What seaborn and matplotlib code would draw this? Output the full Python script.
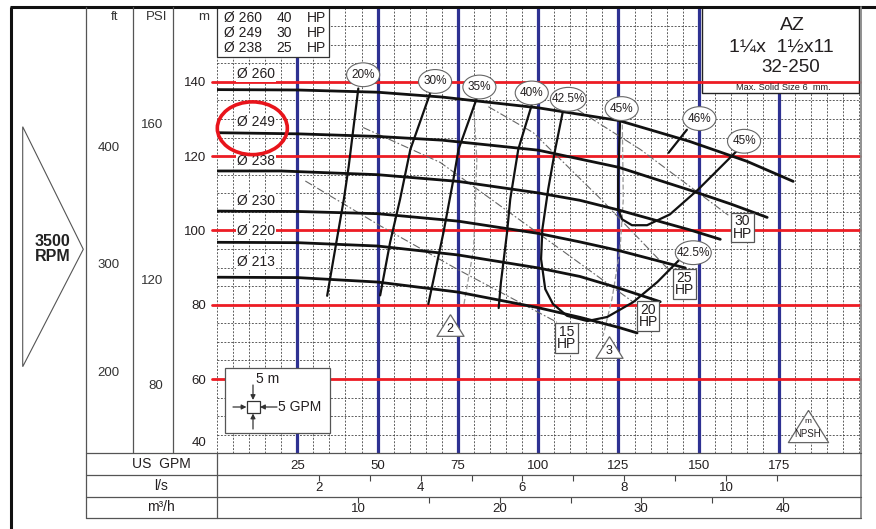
import numpy as np
import pandas as pd
import matplotlib
matplotlib.use("Agg")
import matplotlib.pyplot as plt
import seaborn as sns
from matplotlib.patches import Ellipse, Rectangle, Polygon

# ---------------- data ----------------
gpm_ticks = [25, 50, 75, 100, 125, 150, 175]
head_ticks = [60, 80, 100, 120, 140]
ls_major = [2, 4, 6, 8, 10]
ls_minor = [3, 5, 7, 9, 11]
m3h_major = [10, 20, 30, 40]
m3h_minor = [15, 25, 35]

ft_major_pos = [122.6, 91.0, 62.1]
ft_major_lab = ["400", "300", "200"]
ft_minor_pos = [140.1, 105.2, 76.6]
psi_major_pos = [128.8, 86.9, 58.5]
psi_major_lab = ["160", "120", "80"]
psi_minor_pos = [115.3, 100.5, 72.1]

dia_names = ["Ø 260", "Ø 249", "Ø 238", "Ø 230", "Ø 220", "Ø 213"]
dia_lab_h = [142.1, 129.2, 118.6, 107.8, 99.8, 91.6]
q_260 = [0, 25, 50, 70, 100, 125, 147, 165, 179.4]
h_260 = [137.9, 137.8, 137.2, 135.9, 133.0, 129.6, 124.0, 118.6, 113.2]
q_249 = [0, 25, 50, 70, 100, 125, 147, 160, 171.3]
h_249 = [126.3, 126.0, 125.3, 124.3, 121.6, 117.0, 110.9, 107.1, 103.5]
q_238 = [0, 20, 50, 75, 100, 113, 125, 147, 156.7]
h_238 = [116.0, 116.0, 115.0, 113.2, 110.1, 108.1, 105.5, 100.2, 97.6]
q_230 = [0, 25, 50, 75, 100, 113, 125, 145.8]
h_230 = [105.2, 105.1, 104.5, 102.5, 99.2, 96.9, 94.6, 89.9]
q_220 = [0, 25, 50, 75, 100, 113, 125, 138]
h_220 = [96.8, 96.7, 95.8, 93.4, 89.9, 87.6, 84.5, 80.8]
q_213 = [0, 25, 50, 75, 100, 113, 125, 130.8]
h_213 = [87.4, 87.3, 86.1, 83.4, 79.2, 76.6, 73.9, 72.4]

q_e20 = [44.0, 41.0, 39.5, 36.4, 34.3]
h_e20 = [138.2, 117.2, 108.4, 93.0, 82.4]
q_e30 = [66.4, 60.2, 57.0, 53.9, 50.8]
h_e30 = [137.0, 121.8, 108.4, 96.8, 82.5]
q_e35 = [80.9, 75.2, 73.6, 70.5, 68.2, 65.8]
h_e35 = [135.6, 121.8, 113.7, 99.4, 90.0, 80.2]
q_e40 = [98.0, 93.8, 91.3, 90.3, 88.4, 87.7]
h_e40 = [133.8, 121.8, 108.4, 99.4, 86.0, 79.1]
q_e425 = [107.8, 105.3, 103.1, 101.3, 100.9, 102.2, 104.6, 109.0, 115.3, 121.5, 129.6, 137.1, 144.2, 146.7]
h_e425 = [132.5, 121.8, 111.0, 100.3, 92.3, 84.2, 80.2, 77.0, 75.6, 76.7, 80.7, 86.1, 92.3, 93.9]
q_e45 = [125.5, 125.2, 124.9, 124.9, 126.1, 129.2, 133.9, 141.0, 149.8, 160.7, 162.3]
h_e45 = [129.8, 121.8, 113.7, 105.7, 103.0, 101.4, 101.4, 104.3, 111.0, 120.4, 121.8]
q_e46 = [146.3, 140.6]
h_e46 = [127.1, 120.9]

eff_labels = ["20%", "30%", "35%", "40%", "42.5%", "45%", "46%", "45%", "42.5%"]
eff_lab_q = [45.5, 67.9, 81.7, 98.0, 109.4, 126.0, 150.2, 164.1, 148.3]
eff_lab_h = [141.9, 140.1, 138.6, 137.0, 135.3, 132.8, 130.1, 124.0, 94.0]

q_p15 = [27.5, 50.9, 74.7, 105.8]
h_p15 = [113.3, 101.2, 89.6, 75.3]
q_p20 = [45.5, 69.5, 106.8, 129.6]
h_p20 = [127.7, 118.3, 95.0, 80.7]
q_p25 = [84.5, 98.5, 120.0, 141.1]
h_p25 = [133.3, 126.3, 108.0, 89.0]
q_p30 = [112.2, 131.8, 159.2]
h_p30 = [132.5, 121.8, 104.1]

q_n2 = [79.9, 80.9, 79.9, 76.8]
h_n2 = [133.8, 119.0, 95.0, 79.7]
q_n3 = [126.2, 126.5, 125.5, 123.0, 120.2]
h_n3 = [128.5, 108.4, 95.0, 81.6, 71.6]

hp_labels = ["15\nHP", "20\nHP", "25\nHP", "30\nHP"]
hp_q = [108.9, 134.2, 145.5, 163.6]
hp_h = [71.0, 77.0, 85.5, 100.8]

npsh_labels = ["2", "3"]
npsh_q = [72.6, 122.0]
npsh_h = [74.5, 68.6]

info_dia = ["Ø 260", "Ø 249", "Ø 238"]
info_hp = ["40", "30", "25"]

# ---------------- style ----------------
sns.set_theme(style="white")
plt.rcParams['font.family'] = ['Liberation Sans', 'DejaVu Sans']
TXT = '#231F20'
BLUE = '#2E3192'
RED = '#ED1C24'

W, H = 876, 529
fig = plt.figure(figsize=(8.76, 5.29), dpi=100)
fig.patch.set_facecolor('white')

L, R, T, B = 217, 860, 8, 453.3
ax = fig.add_axes([L / W, 1 - B / H, (R - L) / W, (B - T) / H])
ax.set_facecolor('white')
ax.set_xlim(0, 200.2)
ax.set_ylim(40.32, 159.87)
for s in ax.spines.values():
    s.set_visible(False)

def P(x, y):
    return (x / W, 1 - y / H)

# grid
ax.set_xticks(np.arange(0, 201, 5), minor=True)
ax.set_yticks(np.arange(40, 160, 5), minor=True)
ax.set_xticks(gpm_ticks)
ax.set_xticklabels([str(v) for v in gpm_ticks])
ax.set_yticks(head_ticks)
ax.set_yticklabels([str(v) for v in head_ticks])
ax.set_axisbelow(True)
ax.grid(which='both', color='#333333', lw=0.55, ls=(0, (2.5, 2)))
ax.tick_params(axis='x', which='major', direction='out', length=3.6, width=2.3,
               color=BLUE, labelcolor=TXT, labelsize=9.5, pad=1.5)
ax.tick_params(axis='x', which='minor', length=0)
ax.tick_params(axis='y', which='both', length=0, labelcolor=TXT, labelsize=9.5, pad=7.5)
ax.text(-3.24, 42.8, "40", ha='right', va='center', fontsize=9.5, color=TXT, clip_on=False)

for g in gpm_ticks:
    ax.axvline(g, color=BLUE, lw=2.3, zorder=1)
for hh in head_ticks:
    ax.axhline(hh, xmin=-0.0078, xmax=1, color=RED, lw=2.0, zorder=2, clip_on=False)

# AZ box (under red line, over grid)
ax.add_patch(Rectangle(P(702, 93), (859 - 702) / W, (93 - 7) / H, transform=fig.transFigure,
                       fc='white', ec='#222', lw=1.0, zorder=1.5, clip_on=False))
ax.text(*P(792, 25), "AZ", transform=fig.transFigure, ha='center', va='center', fontsize=14, color=TXT, zorder=6)
ax.text(*P(781, 47), "1¼x  1½x11", transform=fig.transFigure, ha='center', va='center', fontsize=14, color=TXT, zorder=6)
ax.text(*P(791, 68), "32-250", transform=fig.transFigure, ha='center', va='center', fontsize=13.5, color=TXT, zorder=6)
ax.text(*P(783, 88), "Max. Solid Size 6  mm.", transform=fig.transFigure, ha='center', va='center', fontsize=6.7, color=TXT, zorder=6)

def long_df(qs, hs, names):
    return pd.concat([pd.DataFrame({'gpm': q, 'head': h, 'curve': n}) for q, h, n in zip(qs, hs, names)])

# H-Q curves
hq = long_df([q_260, q_249, q_238, q_230, q_220, q_213],
             [h_260, h_249, h_238, h_230, h_220, h_213], dia_names)
sns.lineplot(data=hq, x='gpm', y='head', units='curve', estimator=None, sort=False,
             color='#111111', lw=2.0, ax=ax, zorder=3, legend=False)

eff = long_df([q_e20, q_e30, q_e35, q_e40, q_e425, q_e45, q_e46],
              [h_e20, h_e30, h_e35, h_e40, h_e425, h_e45, h_e46],
              ['e20', 'e30', 'e35', 'e40', 'e425', 'e45', 'e46'])
sns.lineplot(data=eff, x='gpm', y='head', units='curve', estimator=None, sort=False,
             color='#111111', lw=1.6, ax=ax, zorder=3, legend=False)

pw = long_df([q_p15, q_p20, q_p25, q_p30], [h_p15, h_p20, h_p25, h_p30],
             ['p15', 'p20', 'p25', 'p30'])
sns.lineplot(data=pw, x='gpm', y='head', units='curve', estimator=None, sort=False,
             color='#666666', lw=0.8, linestyle=(0, (7, 2, 1.5, 2)), ax=ax, zorder=2.5, legend=False)

npsh = long_df([q_n2, q_n3], [h_n2, h_n3], ['n2', 'n3'])
sns.lineplot(data=npsh, x='gpm', y='head', units='curve', estimator=None, sort=False,
             color='#999999', lw=0.9, linestyle=(0, (4, 2)), ax=ax, zorder=2.5, legend=False)
ax.set_xlabel('')
ax.set_ylabel('')

# efficiency labels
for lab, q, h in zip(eff_labels, eff_lab_q, eff_lab_h):
    w = 11.2 if '.' in lab else 10.3
    ax.add_patch(Ellipse((q, h), width=w, height=6.4, fc='white', ec='#666', lw=0.8, zorder=4))
    ax.text(q, h, lab, ha='center', va='center', fontsize=8.5, color=TXT, zorder=4.5)

# diameter labels
for lab, h in zip(dia_names, dia_lab_h):
    ax.text(12.2, h, lab, ha='center', va='center', fontsize=10, color=TXT, zorder=4,
            bbox=dict(boxstyle='square,pad=0.08', fc='white', ec='none'))

# red highlight ellipse
ax.add_patch(Ellipse((11.0, 127.5), width=21.8, height=14.2, fc='none', ec='#E8141B', lw=2.6, zorder=6,
                     clip_on=False))

# HP boxes
for lab, q, h in zip(hp_labels, hp_q, hp_h):
    ax.text(q, h, lab, ha='center', va='center', fontsize=10, color=TXT, linespacing=0.85, zorder=5,
            bbox=dict(boxstyle='square,pad=0.12', fc='white', ec='#555', lw=0.9))

# NPSH triangles
tri = [(0, 0.8), (-1, -0.8), (1, -0.8), (0, 0.8)]
ax.scatter(npsh_q, npsh_h, marker=tri, s=380, facecolor='white', edgecolor='#666', linewidths=0.9, zorder=5)
for lab, q, h in zip(npsh_labels, npsh_q, npsh_h):
    ax.text(q, h - 1.0, lab, ha='center', va='center', fontsize=9, color=TXT, zorder=6)
ax.scatter([184.0], [47.4], marker=tri, s=840, facecolor='white', edgecolor='#666', linewidths=0.9, zorder=5)
ax.text(184.0, 48.6, "m", ha='center', va='center', fontsize=6, color=TXT, zorder=6)
ax.text(184.0, 45.2, "NPSH", ha='center', va='center', fontsize=7, color=TXT, zorder=6)

# secondary unit rows
sec1 = ax.secondary_xaxis(-(475 - B) / (B - T),
                          functions=(lambda q: np.asarray(q) / 15.85, lambda l: np.asarray(l) * 15.85))
sec1.set_xticks(ls_major)
sec1.set_xticklabels([str(v) for v in ls_major])
sec1.set_xticks(ls_minor, minor=True)
sec1.tick_params(which='both', direction='out', length=4.3, width=0.8, color='#444',
                 labelsize=9.5, labelcolor=TXT, pad=0.5)
for s in sec1.spines.values():
    s.set_visible(False)

sec2 = ax.secondary_xaxis(-(496.5 - B) / (B - T),
                          functions=(lambda q: np.asarray(q) * 0.22712, lambda m: np.asarray(m) / 0.22712))
sec2.set_xticks(m3h_major)
sec2.set_xticklabels([str(v) for v in m3h_major])
sec2.set_xticks(m3h_minor, minor=True)
sec2.tick_params(which='both', direction='out', length=4.0, width=0.8, color='#444',
                 labelsize=9.5, labelcolor=TXT, pad=0.5)
for s in sec2.spines.values():
    s.set_visible(False)

# ft and PSI scales
def side_axis(xpix, major_pos, major_lab, minor_pos, length, pad):
    a = fig.add_axes([xpix / W, 1 - B / H, 0.0001, (B - T) / H])
    a.set_ylim(ax.get_ylim())
    a.set_xticks([])
    a.patch.set_alpha(0)
    for s in a.spines.values():
        s.set_visible(False)
    a.set_yticks(major_pos)
    a.set_yticklabels(major_lab)
    a.set_yticks(minor_pos, minor=True)
    a.tick_params(axis='y', which='major', direction='out', length=length, width=1.5, color='#222',
                  labelsize=9.5, labelcolor='#333', pad=pad)
    a.tick_params(axis='y', which='minor', direction='out', length=length, width=0.7, color='#666')
    return a

side_axis(133, ft_major_pos, ft_major_lab, ft_minor_pos, 7.0, 2.5)
side_axis(173, psi_major_pos, psi_major_lab, psi_minor_pos, 4.6, 2.5)

# ---------------- overlay (frame, table, legends) ----------------
ov = fig.add_axes([0, 0, 1, 1], zorder=10)
ov.set_xlim(0, W)
ov.set_ylim(H, 0)
ov.axis('off')
ov.patch.set_alpha(0)

ov.plot([11, 11], [7, 529], color='#111', lw=2.2, solid_capstyle='butt')
ov.plot([10, 876], [7, 7], color='#111', lw=2.2, solid_capstyle='butt')
ov.plot([861, 861], [7, 518], color='#888', lw=1.3)
for xv, y2 in [(86, 518), (133, 453.3), (173, 453.3)]:
    ov.plot([xv, xv], [7, y2], color='#555', lw=0.9)
ov.plot([217, 217], [453.3, 518], color='#555', lw=0.9)
for yv in [453.3, 475, 496.5, 518]:
    ov.plot([86, 861], [yv, yv], color='#555', lw=0.9)

ov.text(115, 17, "ft", ha='center', va='center', fontsize=9.5, color='#333')
ov.text(157, 17, "PSI", ha='center', va='center', fontsize=9.5, color='#333')
ov.text(204, 17, "m", ha='center', va='center', fontsize=9.5, color='#333')
ov.text(161, 464, "US  GPM", ha='center', va='center', fontsize=10, color=TXT)
ov.text(161, 486, "l/s", ha='center', va='center', fontsize=10, color=TXT)
ov.text(161, 507, "m³/h", ha='center', va='center', fontsize=10, color=TXT)

ov.add_patch(Polygon([(22.7, 126.7), (83.3, 249.3), (22.7, 366.7)], closed=True,
                     fc='white', ec='#555', lw=0.8))
ov.text(52.5, 249, "3500\nRPM", ha='center', va='center', fontsize=11.5, fontweight='bold',
        color='#222', linespacing=0.95)

# info box top-left
ov.add_patch(Rectangle((217, 7), 329 - 217, 56.7 - 7, fc='white', ec='#333', lw=0.9))
for i, (d, hp) in enumerate(zip(info_dia, info_hp)):
    yy = 18.3 + 15 * i
    ov.text(224, yy, d, ha='left', va='center', fontsize=10, color=TXT)
    ov.text(284, yy, hp, ha='center', va='center', fontsize=10, color=TXT)
    ov.text(316, yy, "HP", ha='center', va='center', fontsize=10, color=TXT)

# 5 m / 5 GPM legend box
ov.add_patch(Rectangle((225, 368.3), 105, 65, fc='white', ec='#555', lw=0.9))
ov.text(268, 379, "5 m", ha='center', va='center', fontsize=10, color=TXT)
ov.add_patch(Rectangle((247, 400.5), 12.5, 12.5, fc='white', ec='#333', lw=0.9))
arr = dict(arrowstyle='-|>', color='#333', lw=0.9, mutation_scale=7, shrinkA=0, shrinkB=0)
ov.annotate('', xy=(253, 400), xytext=(253, 385), arrowprops=arr)
ov.annotate('', xy=(253, 413.5), xytext=(253, 429), arrowprops=arr)
ov.annotate('', xy=(246.5, 407), xytext=(233, 407), arrowprops=arr)
ov.annotate('', xy=(260, 407), xytext=(277, 407), arrowprops=arr)
ov.text(278, 407, "5 GPM", ha='left', va='center', fontsize=10, color=TXT)

fig.savefig("out.png", dpi=100, facecolor='white')
